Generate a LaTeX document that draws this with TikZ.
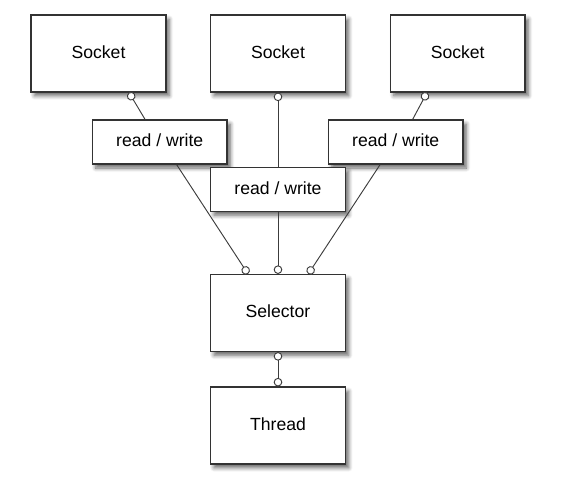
\documentclass[tikz,border=0pt]{standalone}
\usepackage{fontspec}
\setmainfont{Liberation Sans}
\usetikzlibrary{calc,arrows.meta,shadows.blur}

\definecolor{edge}{HTML}{333333}
\definecolor{wire}{HTML}{3C3C3C}

\tikzset{
    box/.style={draw=edge, line width=1.1pt, fill=white, minimum width=101pt,
        inner sep=0pt, text depth=2.5pt, font=\fontsize{13.2}{16}\selectfont,
        blur shadow={shadow xshift=2.5pt, shadow yshift=-3pt, shadow blur radius=3pt,
            shadow blur steps=6, shadow opacity=60}},
    tallbox/.style={box, minimum height=57.5pt},
    flatbox/.style={box, minimum height=33pt},
    wire/.style={draw=wire, line width=0.7pt},
    ring/.tip={Circle[open, length=6.4pt, width=6.4pt, line width=0.7pt, fill=white]}
}

\begin{document}
\begin{tikzpicture}[x=0.75pt, y=-0.75pt]
    \useasboundingbox (0,0) rectangle (572,476);

    %%sockets
    \node[tallbox] (socketA) at (98.5, 53.5) {Socket};
    \node[tallbox] (socketB) at (278, 53.5) {Socket};
    \node[tallbox] (socketC) at (457.7, 53.5) {Socket};

    %%read / write
    \node[flatbox] (rwA) at (159.7, 142) {read / write};
    \node[flatbox] (rwC) at (395.7, 142) {read / write};

    %%socket to read / write
    \draw[wire, {ring}-] ($(socketA.south)+(30.5,0)$) -- ($(rwA.north)+(-14.7,0)$);
    \draw[wire, {ring}-] ($(socketC.south)+(-30.7,0)$) -- ($(rwC.north)+(17,0)$);
    \draw[wire, {ring}-] (socketB.south) -- (278, 168);

    \node[flatbox] (rwB) at (278, 189.3) {read / write};

    %%selector and thread
    \node[tallbox] (selector) at (278, 313) {Selector};
    \node[tallbox] (thread) at (278, 425.5) {Thread};

    %%read / write to selector
    \draw[wire, -{ring}] ($(rwA.south)+(17,0)$) -- ($(selector.north)+(-30,0)$);
    \draw[wire, -{ring}] (rwB.south) -- (selector.north);
    \draw[wire, -{ring}] ($(rwC.south)+(-15.7,0)$) -- ($(selector.north)+(30.3,0)$);

    %%selector to thread
    \draw[wire, {ring}-{ring}] (selector.south) -- (thread.north);
\end{tikzpicture}
\end{document}
